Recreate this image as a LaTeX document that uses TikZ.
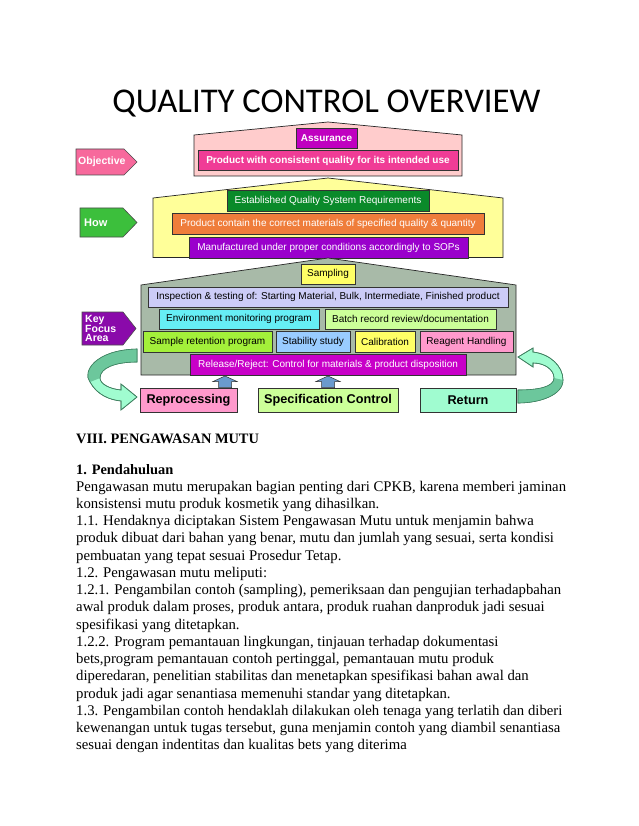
\documentclass[tikz,border=0pt]{standalone}
\usepackage{fontspec}
\setmainfont{Liberation Serif}
\setsansfont{Liberation Sans}
\newfontfamily\titlefont{Carlito}
\usetikzlibrary{calc}
\definecolor{pinkhouse}{HTML}{FFCCCC}
\definecolor{assur}{HTML}{C000C0}
\definecolor{hotpink}{HTML}{F03C96}
\definecolor{objpink}{HTML}{F7699C}
\definecolor{yelhouse}{HTML}{FFFF99}
\definecolor{dgreen}{HTML}{0A8A2A}
\definecolor{orng}{HTML}{EF7D3B}
\definecolor{purp}{HTML}{9A00CC}
\definecolor{howgreen}{HTML}{3CBF3C}
\definecolor{greyhouse}{HTML}{A8BAA8}
\definecolor{keypurp}{HTML}{8A0AAA}
\definecolor{sampyel}{HTML}{FFFF66}
\definecolor{lav}{HTML}{CCCCF7}
\definecolor{cyanb}{HTML}{66EEF5}
\definecolor{lgreen}{HTML}{CCFF99}
\definecolor{ygreen}{HTML}{A3F03A}
\definecolor{lblue}{HTML}{99CCFF}
\definecolor{lpink}{HTML}{FF99CC}
\definecolor{magenta2}{HTML}{C800C8}
\definecolor{mint}{HTML}{A0FCD0}
\definecolor{mintmid}{HTML}{6CC79C}
\definecolor{mintdark}{HTML}{3F8060}
\definecolor{arrblue}{HTML}{6A9ACD}
\begin{document}
\begin{tikzpicture}[x=1pt,y=-1pt,
  house/.style={draw=black!85, line width=0.7pt},
  box/.style={draw=black!80, line width=0.6pt, inner sep=0pt, anchor=center,
    font=\sffamily\fontsize{10}{12}\selectfont},
  wbox/.style={box, text=white},
  bbox/.style={box, text=black},
  bigbox/.style={box, text=black, minimum height=24, font=\sffamily\bfseries\fontsize{12.7}{14}\selectfont},
  tag/.style={draw=black!70, line width=0.6pt},
  tagtext/.style={text=white, inner sep=0pt, anchor=west, align=left,
    font=\sffamily\bfseries\fontsize{10.5}{10}\selectfont},
  uparr/.style={draw=black!80, line width=0.5pt, fill=arrblue},
  curved/.style={draw=mintdark, line width=0.6pt, fill=mint},
  shade/.style={fill=mintmid},
  body/.style={anchor=base west, inner sep=0pt, font=\fontsize{14.75}{17}\selectfont},
  head/.style={anchor=base west, inner sep=0pt, font=\bfseries\fontsize{14.4}{17}\selectfont}]
\useasboundingbox (0,0) rectangle (638,826);
\fill[white] (0,0) rectangle (638,826);

% title
\node[anchor=base, inner sep=0pt, font=\titlefont\fontsize{34.7}{35}\selectfont] (title) at (326.5,113) {QUALITY CONTROL OVERVIEW};

% ---------- pink house ----------
\draw[house, fill=pinkhouse] (194,176) -- (194,135) -- (328,122) -- (462,135) -- (462,176) -- cycle;
\node[wbox, fill=assur, minimum width=61, minimum height=20, font=\sffamily\bfseries\fontsize{10}{12}\selectfont] (assur) at (326.5,138) {Assurance};
\node[wbox, fill=hotpink, minimum width=260, minimum height=20, font=\sffamily\bfseries\fontsize{10}{12}\selectfont] (consist) at (328,160.5) {Product with consistent quality for its intended use};
\draw[tag, fill=objpink] (76,149) -- (124,149) -- (137,162) -- (124,175) -- (76,175) -- cycle;
\node[tagtext] (objective) at (78,162) {Objective};

% ---------- yellow house ----------
\draw[house, fill=yelhouse] (153,257.5) -- (153,198) -- (328,178) -- (503,198) -- (503,257.5) -- cycle;
\node[wbox, fill=dgreen, minimum width=202, minimum height=21] (estab) at (328,201) {Established Quality System Requirements};
\node[wbox, fill=orng, minimum width=312, minimum height=21] (correct) at (328,223.5) {Product contain the correct materials of specified quality \& quantity};
\node[wbox, fill=purp, minimum width=279, minimum height=21] (manuf) at (328.5,247.5) {Manufactured under proper conditions accordingly to SOPs};
\draw[tag, fill=howgreen] (80,208) -- (123,208) -- (137,222.5) -- (123,237) -- (80,237) -- cycle;
\node[tagtext, font=\sffamily\bfseries\fontsize{11}{11}\selectfont] (how) at (84,222.5) {How};

% ---------- grey house ----------
\draw[house, fill=greyhouse] (141,375) -- (141,285) -- (328,258) -- (516,285) -- (516,375) -- cycle;
\node[bbox, fill=sampyel, minimum width=54, minimum height=20] (sampling) at (328,274) {Sampling};
\node[bbox, fill=lav, minimum width=360, minimum height=20] (inspect) at (328,297) {Inspection \& testing of: Starting Material, Bulk, Intermediate, Finished product};
\node[bbox, fill=cyanb, minimum width=160, minimum height=20] (env) at (239,319) {Environment monitoring program};
\node[bbox, fill=lgreen, minimum width=171, minimum height=20] (batch) at (410.5,319) {Batch record review/documentation};
\node[bbox, fill=ygreen, minimum width=129, minimum height=21] (retain) at (207.5,341.5) {Sample retention program};
\node[bbox, fill=lblue, minimum width=74, minimum height=21] (stab) at (313,341.5) {Stability study};
\node[bbox, fill=sampyel, minimum width=60, minimum height=21] (calib) at (385,341.5) {Calibration};
\node[bbox, fill=lpink, minimum width=93, minimum height=21] (reagent) at (466.5,341.5) {Reagent Handling};
\node[wbox, fill=magenta2, minimum width=276, minimum height=21] (release) at (328,364.5) {Release/Reject: Control for materials \& product disposition};
\draw[tag, fill=keypurp] (82,312) -- (123,312) -- (136,328.5) -- (123,345) -- (82,345) -- cycle;
\node[tagtext, font=\sffamily\bfseries\fontsize{10.5}{9.5}\selectfont] (key) at (85,328.5) {Key\\Focus\\Area};

% ---------- bottom boxes ----------
\node[bigbox, fill=lpink, minimum width=97] (repro) at (188.5,400) {Reprocessing};
\node[bigbox, fill=lgreen, minimum width=140] (spec) at (328,400) {Specification Control};
\node[bigbox, fill=mint, minimum width=96] (return) at (468,400) {Return};

% up arrows
\coordinate (ua1) at (225,387.5);
\coordinate (ua2) at (328,387.5);
\foreach \c in {ua1,ua2}{
  \draw[uparr] ($(\c)+(-6.5,0)$) -- ($(\c)+(-6.5,-6)$) -- ($(\c)+(-12,-6)$) -- ($(\c)+(0,-11.5)$) -- ($(\c)+(12,-6)$) -- ($(\c)+(6.5,-6)$) -- ($(\c)+(6.5,0)$) -- cycle;
}

% curved arrows
\coordinate (lstart) at (137,349);
\coordinate (ltip) at (137,397);
\fill[curved] (lstart) .. controls (95,350) and (82,372) .. (90,382)
  .. controls (97,395) and (110,400) .. (121,401) -- (121,410) -- (ltip) -- (121,384) -- (121,390)
  .. controls (110,389) and (100,384) .. (100,378) .. controls (100,368) and (115,362) .. (137,362) -- cycle;
\fill[shade] (lstart) .. controls (95,350) and (82,372) .. (90,382) -- (100,378)
  .. controls (100,368) and (115,362) .. (137,362) -- cycle;
\draw[curved, fill=none] (lstart) .. controls (95,350) and (82,372) .. (90,382)
  .. controls (97,395) and (110,400) .. (121,401) -- (121,410) -- (ltip) -- (121,384) -- (121,390)
  .. controls (110,389) and (100,384) .. (100,378) .. controls (100,368) and (115,362) .. (137,362) -- cycle;
\coordinate (rtip) at (518,357);
\coordinate (rstart) at (518,403);
\fill[curved] (rtip) -- (533,348) -- (533,352) .. controls (550,354) and (563,366) .. (563,380)
  .. controls (563,395) and (540,403) .. (rstart) -- (518,390)
  .. controls (538,390) and (554,387) .. (554,378) .. controls (554,370) and (545,363) .. (533,363) -- (533,367) -- cycle;
\fill[shade] (563,380) .. controls (563,395) and (540,403) .. (rstart) -- (518,390)
  .. controls (538,390) and (554,387) .. (554,378) -- cycle;
\draw[curved, fill=none] (rtip) -- (533,348) -- (533,352) .. controls (550,354) and (563,366) .. (563,380)
  .. controls (563,395) and (540,403) .. (rstart) -- (518,390)
  .. controls (538,390) and (554,387) .. (554,378) .. controls (554,370) and (545,363) .. (533,363) -- (533,367) -- cycle;

% ---------- body text ----------
\node[head] (h1) at (76,443) {VIII. PENGAWASAN MUTU};
\node[head] (h2) at (76,474) {1. Pendahuluan};
\node[body] (t0) at (76,491) {Pengawasan mutu merupakan bagian penting dari CPKB, karena memberi jaminan};
\node[body] (t1) at (76,508.25) {konsistensi mutu produk kosmetik yang dihasilkan.};
\node[body] (t2) at (76,525.5) {1.1. Hendaknya diciptakan Sistem Pengawasan Mutu untuk menjamin bahwa};
\node[body] (t3) at (76,542.75) {produk dibuat dari bahan yang benar, mutu dan jumlah yang sesuai, serta kondisi};
\node[body] (t4) at (76,560) {pembuatan yang tepat sesuai Prosedur Tetap.};
\node[body] (t5) at (76,577.25) {1.2. Pengawasan mutu meliputi:};
\node[body] (t6) at (76,594.5) {1.2.1. Pengambilan contoh (sampling), pemeriksaan dan pengujian terhadapbahan};
\node[body] (t7) at (76,611.75) {awal produk dalam proses, produk antara, produk ruahan danproduk jadi sesuai};
\node[body] (t8) at (76,629) {spesifikasi yang ditetapkan.};
\node[body] (t9) at (76,646.25) {1.2.2. Program pemantauan lingkungan, tinjauan terhadap dokumentasi};
\node[body] (t10) at (76,663.5) {bets,program pemantauan contoh pertinggal, pemantauan mutu produk};
\node[body] (t11) at (76,680.75) {diperedaran, penelitian stabilitas dan menetapkan spesifikasi bahan awal dan};
\node[body] (t12) at (76,698) {produk jadi agar senantiasa memenuhi standar yang ditetapkan.};
\node[body] (t13) at (76,715.25) {1.3. Pengambilan contoh hendaklah dilakukan oleh tenaga yang terlatih dan diberi};
\node[body] (t14) at (76,732.5) {kewenangan untuk tugas tersebut, guna menjamin contoh yang diambil senantiasa};
\node[body] (t15) at (76,749.75) {sesuai dengan indentitas dan kualitas bets yang diterima};
\end{tikzpicture}
\end{document}
